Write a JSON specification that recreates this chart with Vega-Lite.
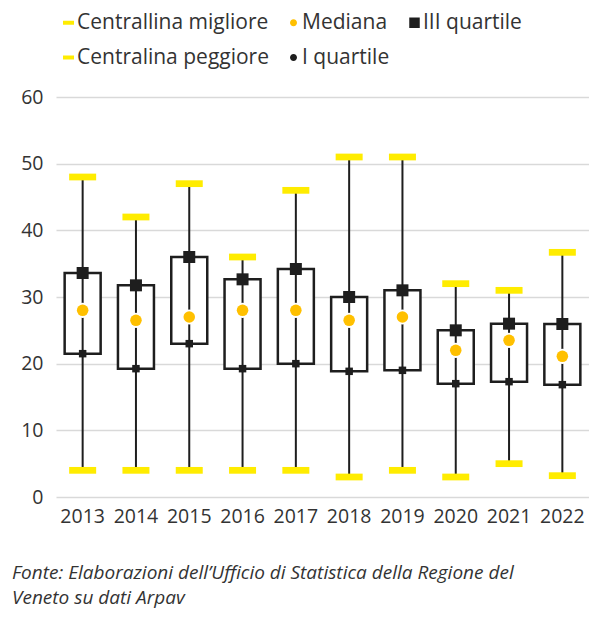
{
  "$schema": "https://vega.github.io/schema/vega-lite/v6.json",
  "width": 533,
  "height": 400,
  "padding": {"left": 12, "top": 10, "right": 0, "bottom": 0},
  "background": "white",
  "data": {
    "values": [
      {"anno": "2013", "min": 4, "q1": 21.5, "mediana": 28, "q3": 33.6, "max": 48},
      {"anno": "2014", "min": 4, "q1": 19.25, "mediana": 26.5, "q3": 31.75, "max": 42},
      {"anno": "2015", "min": 4, "q1": 23, "mediana": 27, "q3": 36, "max": 47},
      {"anno": "2016", "min": 4, "q1": 19.25, "mediana": 28, "q3": 32.65, "max": 36},
      {"anno": "2017", "min": 4, "q1": 20, "mediana": 28, "q3": 34.2, "max": 46},
      {"anno": "2018", "min": 3, "q1": 18.85, "mediana": 26.5, "q3": 30, "max": 51},
      {"anno": "2019", "min": 4, "q1": 19, "mediana": 27, "q3": 31, "max": 51},
      {"anno": "2020", "min": 3, "q1": 17, "mediana": 22, "q3": 25, "max": 32},
      {"anno": "2021", "min": 5, "q1": 17.3, "mediana": 23.5, "q3": 26, "max": 31},
      {"anno": "2022", "min": 3.2, "q1": 16.85, "mediana": 21.1, "q3": 25.95, "max": 36.7}
    ]
  },
  "title": {
    "text": ["Fonte: Elaborazioni dell’Ufficio di Statistica della Regione del", "Veneto su dati Arpav"],
    "orient": "bottom",
    "anchor": "start",
    "frame": "group",
    "dx": -44,
    "offset": 38,
    "font": "Open Sans",
    "fontSize": 19,
    "fontStyle": "italic",
    "fontWeight": "normal",
    "color": "#333333",
    "lineHeight": 25
  },
  "encoding": {
    "x": {
      "field": "anno",
      "type": "ordinal",
      "scale": {"paddingInner": 0.2, "paddingOuter": 0.1},
      "axis": {"title": null}
    }
  },
  "layer": [
    {
      "mark": {"type": "bar", "fill": "white", "stroke": "#1e1e1e", "strokeWidth": 2.5, "size": 36},
      "encoding": {
        "y": {
          "field": "q1",
          "type": "quantitative",
          "scale": {"domain": [0, 60], "nice": false},
          "axis": {"title": null, "values": [0, 10, 20, 30, 40, 50, 60]}
        },
        "y2": {"field": "q3"}
      }
    },
    {
      "mark": {"type": "rule", "color": "#1e1e1e", "strokeWidth": 2},
      "encoding": {
        "y": {"field": "min", "type": "quantitative"},
        "y2": {"field": "max"}
      }
    },
    {
      "transform": [{"fold": ["min", "mediana", "q3", "max", "q1"], "as": ["serie", "valore"]}],
      "mark": {"type": "point", "filled": true, "opacity": 1, "strokeWidth": 0, "size": 100},
      "encoding": {
        "y": {"field": "valore", "type": "quantitative"},
        "color": {
          "field": "serie",
          "type": "nominal",
          "scale": {"domain": ["min", "mediana", "q3", "max", "q1"], "range": ["#FFEC00", "#FFC000", "#1e1e1e", "#FFEC00", "#1e1e1e"]},
          "legend": {
            "title": null,
            "orient": "top",
            "columns": 3,
            "labelFont": "Open Sans",
            "labelFontSize": 21,
            "labelColor": "#333333",
            "labelLimit": 400,
            "symbolSize": 100,
            "rowPadding": 13,
            "columnPadding": 14,
            "labelOffset": -2,
            "padding": 2,
            "offset": 27,
            "labelExpr": "{'min': 'Centrallina migliore', 'mediana': 'Mediana', 'q3': 'III quartile', 'max': 'Centralina peggiore', 'q1': 'I quartile'}[datum.label]"
          }
        },
        "shape": {
          "field": "serie",
          "type": "nominal",
          "scale": {
            "domain": ["min", "mediana", "q3", "max", "q1"],
            "range": [
              "M-1.1,-0.4H1.1V0.4H-1.1Z",
              "M-0.7,0A0.7,0.7,0,1,0,0.7,0A0.7,0.7,0,1,0,-0.7,0Z",
              "M-1.05,-1.05H1.05V1.05H-1.05Z",
              "M-1.1,-0.4H1.1V0.4H-1.1Z",
              "M-0.7,0A0.7,0.7,0,1,0,0.7,0A0.7,0.7,0,1,0,-0.7,0Z"
            ]
          },
          "legend": {
            "title": null,
            "orient": "top",
            "columns": 3,
            "labelFont": "Open Sans",
            "labelFontSize": 21,
            "labelColor": "#333333",
            "labelLimit": 400,
            "symbolSize": 100,
            "rowPadding": 13,
            "columnPadding": 14,
            "labelOffset": -2,
            "padding": 2,
            "offset": 27,
            "labelExpr": "{'min': 'Centrallina migliore', 'mediana': 'Mediana', 'q3': 'III quartile', 'max': 'Centralina peggiore', 'q1': 'I quartile'}[datum.label]"
          }
        }
      }
    },
    {
      "mark": {"type": "point", "shape": "circle", "filled": true, "color": "white", "opacity": 1, "size": 230},
      "encoding": {
        "y": {"field": "mediana", "type": "quantitative"}
      }
    },
    {
      "transform": [{"fold": ["min", "max"], "as": ["estremo", "valore_estremo"]}],
      "mark": {"type": "point", "shape": "M-1,-0.25H1V0.25H-1Z", "filled": true, "color": "#FFEC00", "opacity": 1, "strokeWidth": 0, "size": 729},
      "encoding": {
        "y": {"field": "valore_estremo", "type": "quantitative"}
      }
    },
    {
      "mark": {"type": "point", "shape": "circle", "filled": true, "color": "#FFC000", "opacity": 1, "strokeWidth": 0, "size": 133},
      "encoding": {
        "y": {"field": "mediana", "type": "quantitative"}
      }
    },
    {
      "mark": {"type": "point", "shape": "square", "filled": true, "color": "#1e1e1e", "opacity": 1, "strokeWidth": 0, "size": 144},
      "encoding": {
        "y": {"field": "q3", "type": "quantitative"}
      }
    },
    {
      "mark": {"type": "point", "shape": "square", "filled": true, "color": "#1e1e1e", "opacity": 1, "strokeWidth": 0, "size": 56},
      "encoding": {
        "y": {"field": "q1", "type": "quantitative"}
      }
    }
  ],
  "config": {
    "font": "Open Sans",
    "view": {"stroke": null},
    "axisY": {
      "grid": true,
      "gridColor": "#d9d9d9",
      "gridWidth": 1.5,
      "domain": false,
      "ticks": false,
      "labelFont": "Open Sans",
      "labelFontSize": 19.5,
      "labelColor": "#333333",
      "labelPadding": 13
    },
    "axisX": {
      "grid": false,
      "domain": false,
      "ticks": false,
      "labelAngle": 0,
      "labelFont": "Open Sans",
      "labelFontSize": 19.5,
      "labelColor": "#333333",
      "labelPadding": 10
    }
  }
}
